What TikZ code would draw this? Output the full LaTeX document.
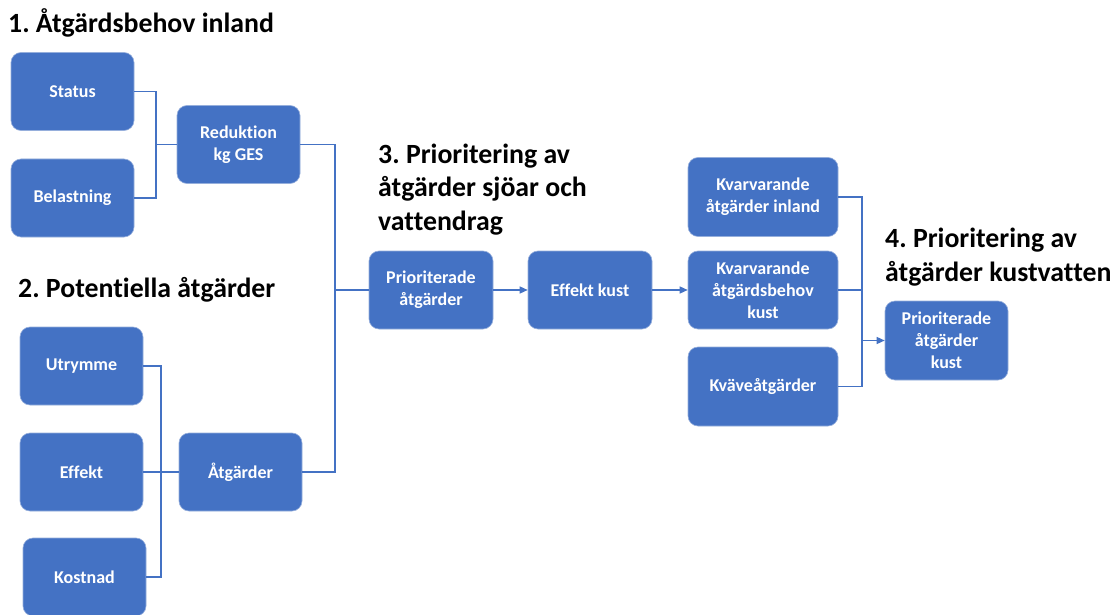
\documentclass[tikz,border=0pt]{standalone}
\usepackage{fontspec}
\setmainfont{Carlito}[Ligatures=NoCommon]
\usetikzlibrary{arrows.meta}
\definecolor{boxblue}{RGB}{68,114,196}
\definecolor{boxedge}{RGB}{150,175,220}
\frenchspacing
\begin{document}
\begin{tikzpicture}[x=1pt,y=-1pt,
  box/.style={rectangle,rounded corners=10pt,fill=boxblue,draw=boxedge,line width=0.6pt,
    text=white,font=\bfseries\fontsize{18}{22}\selectfont,align=center,inner sep=2pt,
    minimum width=123pt,minimum height=78pt},
  widebox/.style={box,minimum width=150pt},
  conn/.style={draw=boxblue,line width=1.3pt},
  arr/.style={conn,-{Triangle[length=8pt,width=7pt]}},
  title/.style={font=\bfseries\fontsize{27.8}{33.5}\selectfont,text=black,align=left,inner sep=0pt,anchor=base west}]
\useasboundingbox (0,0) rectangle (1114,615);
\fill[white] (0,0) rectangle (1114,615);
% titles (base anchor = last line baseline)
\node[title] (t1) at (8,33) {1. Åtgärdsbehov inland};
\node[title] (t2) at (18,297) {2. Potentiella åtgärder};
\node[title] (t3) at (378,230) {3. Prioritering av\\åtgärder sjöar och\\vattendrag};
\node[title] (t4) at (885,281) {4. Prioritering av\\åtgärder kustvatten};
% boxes
\node[box] (status) at (72.5,91.5) {Status};
\node[box] (belast) at (72.5,198) {Belastning};
\node[box] (reduk) at (238.5,144.5) {Reduktion\\kg GES};
\node[box] (utrym) at (81.5,366) {Utrymme};
\node[box] (effekt) at (81.5,472) {Effekt};
\node[box] (kostn) at (84.5,577) {Kostnad};
\node[box] (atg) at (240.5,472) {Åtgärder};
\node[box,minimum width=124pt] (prio) at (431,290) {Prioriterade\\åtgärder};
\node[box,minimum width=124pt] (effk) at (590,290) {Effekt kust};
\node[widebox,minimum height=79pt] (kvinl) at (763,197) {Kvarvarande\\åtgärder inland};
\node[widebox] (kvbeh) at (763,290) {Kvarvarande\\åtgärdsbehov\\kust};
\node[widebox,minimum height=79pt] (kvave) at (763,386.5) {Kväveåtgärder};
\node[box,minimum height=79pt] (priok) at (946.5,340.5) {Prioriterade\\åtgärder\\kust};
% junctions
\coordinate (j1) at (156,144.5);
\coordinate (j2) at (161,472);
\coordinate (j3) at (335,290);
\coordinate (j4) at (862,340.5);
% connectors
\draw[conn] (status.east) -| (j1) |- (belast.east);
\draw[conn] (j1) -- (reduk.west);
\draw[conn] (utrym.east) -| (j2) |- (kostn.east);
\draw[conn] (effekt.east) -- (atg.west);
\draw[conn] (reduk.east) -| (j3) |- (atg.east);
\draw[conn] (j3) -- (prio.west);
\draw[arr] (prio.east) -- (effk.west);
\draw[arr] (effk.east) -- (kvbeh.west);
\draw[conn] (kvinl.east) -| (j4) |- (kvave.east);
\draw[conn] (kvbeh.east) -- (kvbeh.east -| j4);
\draw[arr] (j4) -- (priok.west);
\end{tikzpicture}
\end{document}
